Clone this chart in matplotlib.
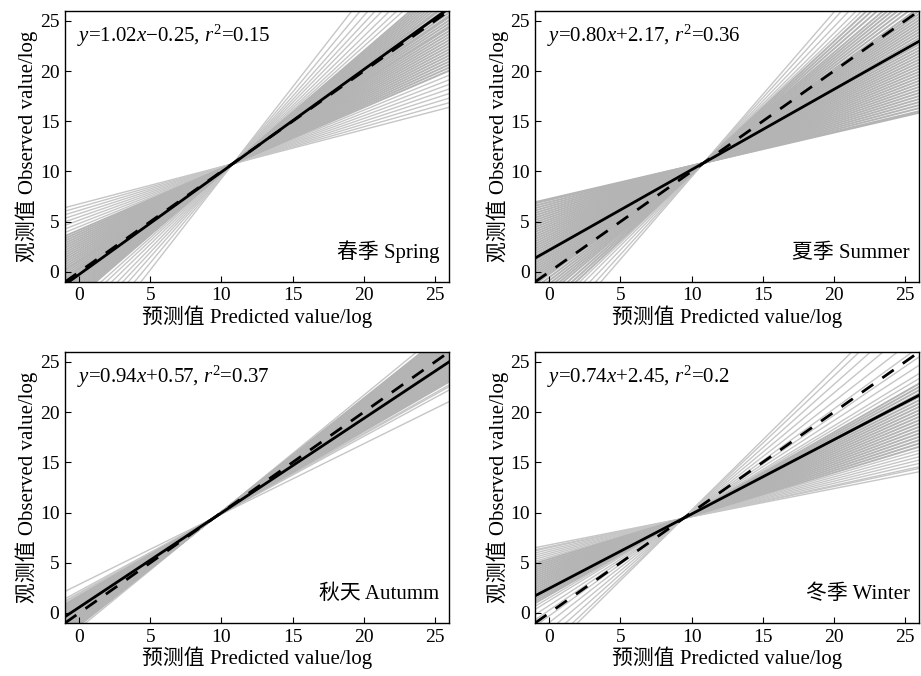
import numpy as np
import matplotlib
matplotlib.use("Agg")
from matplotlib import pyplot as plt

plt.rcParams['font.family'] = ['Liberation Serif', 'Noto Sans CJK SC']
plt.rcParams['mathtext.fontset'] = 'custom'
plt.rcParams['mathtext.rm'] = 'Liberation Serif'
plt.rcParams['mathtext.it'] = 'Liberation Serif:italic'

# season panels
seasons = ["春季 Spring", "夏季 Summer", "秋天 Autumm", "冬季 Winter"]
equations = [r"$y$=1.02$x$−0.25, $r^2$=0.15",
             r"$y$=0.80$x$+2.17, $r^2$=0.36",
             r"$y$=0.94$x$+0.57, $r^2$=0.37",
             r"$y$=0.74$x$+2.45, $r^2$=0.2"]
fit_slope = [1.02, 0.80, 0.94, 0.74]
fit_icpt = [-0.25, 2.17, 0.57, 2.45]

# point where the bootstrap lines cross
pivot_x = [10.8, 10.85, 9.5, 9.42]

# slopes of the grey bootstrap lines
# dense core and sparse outer lines kept apart
core_spring = [1.22, 1.20, 1.18, 1.16, 1.14, 1.12, 1.10, 1.08, 1.06, 1.05,
               1.03, 1.01, 0.99, 0.97, 0.96, 0.94, 0.92, 0.90, 0.89, 0.87,
               0.85, 0.83, 0.81, 0.79, 0.77, 0.75, 0.73, 0.71, 0.69, 0.67,
               0.65, 0.63, 0.61]
outer_spring = [1.82, 1.70, 1.60, 1.52, 1.45, 1.38, 1.32, 1.27,
                0.58, 0.55, 0.52, 0.49, 0.46, 0.43, 0.40, 0.37]
core_summer = [1.32, 1.28, 1.24, 1.20, 1.17, 1.14, 1.11, 1.08, 1.05, 1.02,
               1.00, 0.98, 0.96, 0.94, 0.92, 0.90, 0.88, 0.86, 0.84, 0.82,
               0.80, 0.78, 0.76, 0.74, 0.72, 0.70, 0.68, 0.66, 0.64, 0.62,
               0.60, 0.58, 0.56, 0.54, 0.52, 0.50, 0.48, 0.46, 0.44, 0.42,
               0.40, 0.38, 0.36, 0.34, 0.33]
outer_summer = [1.64, 1.56, 1.48, 1.41, 1.36]
core_autumn = [1.13, 1.12, 1.11, 1.10, 1.09, 1.08, 1.07, 1.06, 1.05, 1.04,
               1.03, 1.02, 1.01, 1.00, 0.99, 0.98, 0.97, 0.96, 0.95, 0.94,
               0.93, 0.92, 0.91, 0.90, 0.89, 0.88, 0.87, 0.86, 0.85, 0.84,
               0.83, 0.82]
outer_autumn = [1.16, 0.80, 0.79, 0.77, 0.70]
core_winter = [0.81, 0.79, 0.77, 0.75, 0.73, 0.71, 0.69, 0.67, 0.65, 0.63,
               0.61, 0.59, 0.57, 0.55, 0.53, 0.51, 0.49, 0.47, 0.45, 0.43]
outer_winter = [1.40, 1.34, 1.26, 1.18, 1.10, 1.03, 0.97, 0.92, 0.87, 0.84,
                0.41, 0.39, 0.37, 0.35, 0.33, 0.31, 0.30, 0.28]
core_slopes = [core_spring, core_summer, core_autumn, core_winter]
outer_slopes = [outer_spring, outer_summer, outer_autumn, outer_winter]

ticks = [0, 5, 10, 15, 20, 25]
lim = (-1, 26)

fig = plt.figure(figsize=(9.21, 6.76), dpi=100)
positions = [[0.0706, 0.583, 0.417, 0.401],
             [0.581, 0.583, 0.417, 0.401],
             [0.0706, 0.0784, 0.417, 0.401],
             [0.581, 0.0784, 0.417, 0.401]]

for i in range(4):
    ax = fig.add_axes(positions[i])
    px = pivot_x[i]
    py = fit_slope[i] * px + fit_icpt[i]
    for s in outer_slopes[i]:
        ax.axline((px, py), slope=s, color='#c6c6c6', lw=1.0, zorder=1)
    for s in core_slopes[i]:
        ax.axline((px, py), slope=s, color='#b4b4b4', lw=1.4, zorder=1)
    ax.axline((0, 0), slope=1, color='black', lw=2.0, ls=(0, (5, 4)), zorder=2)
    ax.axline((0, fit_icpt[i]), slope=fit_slope[i], color='black', lw=2.0, zorder=3)

    ax.set_xlim(lim)
    ax.set_ylim(lim)
    ax.set_xticks(ticks)
    ax.set_yticks(ticks)
    ax.tick_params(direction='in', length=4, labelsize=14, pad=4)
    for sp in ax.spines.values():
        sp.set_linewidth(1.0)
    ax.set_xlabel("预测值 Predicted value/log", fontsize=15, labelpad=1)
    ax.set_ylabel("观测值 Observed value/log", fontsize=15, labelpad=1)
    ax.text(0.03, 0.955, equations[i], transform=ax.transAxes, fontsize=15,
            ha='left', va='top')
    ax.text(0.975, 0.07, seasons[i], transform=ax.transAxes, fontsize=15,
            ha='right', va='bottom')

fig.savefig("out.png", dpi=100)
